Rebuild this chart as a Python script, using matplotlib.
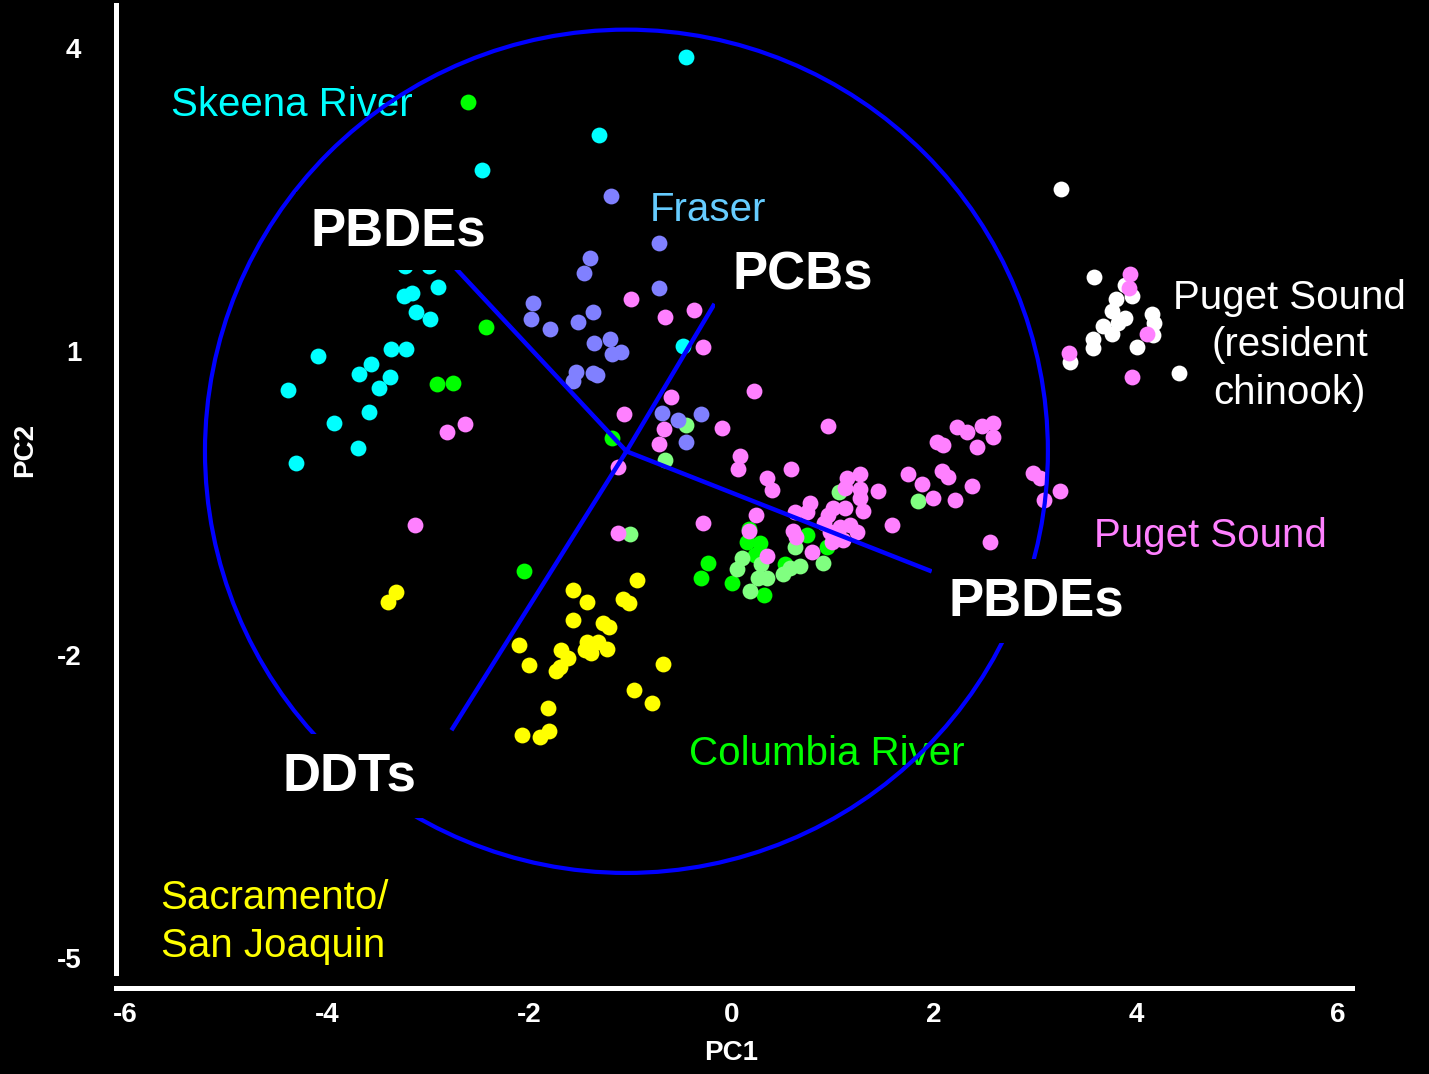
import matplotlib.pyplot as plt
from matplotlib.patches import Circle

plt.rcParams['font.family'] = ['Liberation Sans', 'DejaVu Sans']

# PC scores for each stock
skeena_x = [-0.45, -1.31, -2.47, -3.23, -2.99, -3.24, -3.16, -2.90, -3.12, -2.98, -3.37, -3.22,
            -4.09, -3.57, -3.69, -3.38, -3.49, -4.39, -3.59, -3.93, -3.70, -4.31, -0.48]
skeena_y = [3.91, 3.14, 2.79, 1.84, 1.84, 1.55, 1.58, 1.63, 1.39, 1.32, 1.02, 1.02,
            0.95, 0.87, 0.77, 0.74, 0.64, 0.62, 0.40, 0.29, 0.04, -0.11, 1.05]

columbia_x = [-2.61, -2.43, -2.91, -2.76, -1.18, -2.05, -0.23, -0.30, 0.00, 0.32, 0.17, 0.15,
              0.28, 0.23, 0.53, 0.75, 0.94]
columbia_y = [3.46, 1.24, 0.68, 0.69, 0.14, -1.17, -1.09, -1.24, -1.29, -1.41, -0.76, -0.89,
              -0.90, -1.02, -1.10, -0.82, -0.94]

# second Columbia group (lighter green)
columbia2_x = [-0.45, -0.66, -1.00, 1.84, 0.10, 0.05, 0.18, 0.26, 0.35, 0.51, 0.58, 0.68,
               0.63, 0.90, 1.06, 0.29]
columbia2_y = [0.27, -0.08, -0.81, -0.48, -1.05, -1.15, -1.37, -1.24, -1.24, -1.20, -1.14, -1.12,
               -0.94, -1.09, -0.39, -1.10]

fraser_x = [-1.19, -0.72, -1.40, -1.46, -0.72, -1.96, -1.98, -1.80, -1.52, -1.37, -1.36, -1.20,
            -1.18, -1.09, -1.54, -1.57, -1.37, -1.33, -0.69, -0.53, -0.30, -0.45]
fraser_y = [2.53, 2.07, 1.92, 1.77, 1.62, 1.48, 1.32, 1.22, 1.29, 1.39, 1.08, 1.12,
            0.97, 0.99, 0.79, 0.71, 0.78, 0.76, 0.39, 0.32, 0.38, 0.10]

resident_x = [3.26, 3.59, 3.89, 3.96, 3.80, 3.76, 3.89, 3.82, 3.68, 3.76, 4.16, 4.18,
              4.17, 3.58, 3.58, 4.01, 3.35, 4.43]
resident_y = [2.60, 1.73, 1.65, 1.55, 1.52, 1.40, 1.33, 1.28, 1.25, 1.17, 1.37, 1.28,
              1.16, 1.12, 1.03, 1.04, 0.89, 0.78]

sacramento_x = [-0.94, -1.57, -1.43, -1.07, -1.01, -1.57, -1.27, -1.21, -2.10, -1.43, -1.45, -1.32,
                -1.39, -1.23, -1.69, -1.62, -1.74, -1.70, -2.00, -0.68, -0.97, -0.79, -1.82, -1.81,
                -1.90, -2.07, -3.32, -3.40]
sacramento_y = [-1.26, -1.36, -1.48, -1.45, -1.49, -1.66, -1.69, -1.73, -1.91, -1.88, -1.96, -1.88,
                -1.98, -1.95, -1.96, -2.03, -2.16, -2.12, -2.10, -2.09, -2.35, -2.48, -2.53, -2.76,
                -2.82, -2.80, -1.38, -1.48]

puget_x = [-2.82, -2.64, -3.13, -1.12, -0.99, -0.66, -0.37, -0.28, -0.60, -1.06, -0.67, -0.72,
           -0.09, 0.22, 0.95, -1.12, 0.08, 0.06, 0.35, 0.40, 0.59, -0.28, 0.24, 0.17,
           0.35, 0.61, 0.64, 0.78, 0.80, 1.45, 2.23, 2.33, 2.48, 2.59, 2.59, 2.43,
           2.03, 2.09, 1.75, 1.88, 2.08, 2.14, 2.38, 1.99, 2.21, 1.59, 2.56, 2.98,
           3.05, 3.09, 3.25, 1.27, 1.14, 1.12, 1.27, 0.75, 1.00, 0.95, 1.12, 1.30,
           1.27, 1.17, 1.24, 1.07, 0.97, 0.99, 1.10, 0.91, 0.63, 3.94, 3.93, 4.11,
           3.34, 3.96]
puget_y = [0.20, 0.28, -0.72, -0.80, 1.52, 1.34, 1.41, 1.04, 0.55, 0.38, 0.23, 0.08,
           0.24, 0.61, 0.26, -0.15, -0.04, -0.17, -0.25, -0.37, -0.17, -0.70, -0.62, -0.78,
           -1.03, -0.78, -0.84, -0.50, -0.99, -0.38, 0.25, 0.20, 0.26, 0.29, 0.15, 0.05,
           0.10, 0.07, -0.21, -0.31, -0.18, -0.24, -0.33, -0.45, -0.47, -0.72, -0.89, -0.20,
           -0.25, -0.47, -0.38, -0.21, -0.25, -0.35, -0.36, -0.59, -0.55, -0.62, -0.55, -0.58,
           -0.45, -0.72, -0.79, -0.74, -0.79, -0.89, -0.87, -0.70, -0.59, 1.76, 1.62, 1.17,
           0.98, 0.74]

# loading vectors and correlation circle
origin_x, origin_y = -1.04, 0.01
circle_r = 4.17
load_names = ['PBDEs', 'PCBs', 'DDTs', 'PBDEs']
load_x = [-2.73, -0.18, -2.76, 1.96]
load_y = [1.82, 1.45, -2.73, -1.17]
load_lab_x = [-3.30, 0.70, -3.78, 3.02]
load_lab_y = [2.05, 1.61, -3.34, -1.61]

fig = plt.figure(figsize=(14.29, 10.74), dpi=100, facecolor='black')
ax = fig.add_axes([0.0812, 0.094, 0.865, 0.901])
ax.set_facecolor('black')

dot = dict(s=130, linewidths=0, zorder=2)
ax.scatter(columbia_x, columbia_y, color='#00FF00', **dot)
ax.scatter(columbia2_x, columbia2_y, color='#80FF80', **dot)
ax.scatter(resident_x, resident_y, color='white', **dot)
ax.scatter(fraser_x, fraser_y, color='#8080FF', **dot)
ax.scatter(skeena_x, skeena_y, color='#00FFFF', **dot)
ax.scatter(sacramento_x, sacramento_y, color='#FFFF00', **dot)
ax.scatter(puget_x, puget_y, color='#FF80FF', **dot)

ax.add_patch(Circle((origin_x, origin_y), circle_r, fill=False, color='#0000FF', lw=3, zorder=3))
for lx, ly in zip(load_x, load_y):
    ax.plot([origin_x, lx], [origin_y, ly], color='#0000FF', lw=3.2, zorder=3)

for i, (name, tx, ty) in enumerate(zip(load_names, load_lab_x, load_lab_y)):
    pad = 0.26 if i == 0 else 0.32
    ax.text(tx, ty, name, color='white', fontsize=38, fontweight='bold', ha='center', va='baseline',
            zorder=5, bbox=dict(boxstyle='square,pad=%s' % pad, fc='black', ec='none'))

# stock labels (multi-line ones are placed by the baseline of their last line)
ax.text(-5.55, 3.33, 'Skeena River', color='#00FFFF', fontsize=29, va='baseline', zorder=2.5)
ax.text(-0.81, 2.29, 'Fraser', color='#66CCFF', fontsize=29, va='baseline', zorder=2.5)
ax.text(5.52, 0.48, 'Puget Sound\n(resident\nchinook)', color='white', fontsize=29,
        ha='center', va='baseline', multialignment='center', linespacing=1.32, zorder=2.5)
ax.text(3.59, -0.94, 'Puget Sound', color='#FF80FF', fontsize=29, va='baseline', zorder=2.5)
ax.text(-0.42, -3.09, 'Columbia River', color='#00FF00', fontsize=29, va='baseline', zorder=2.5)
ax.text(-5.65, -4.99, 'Sacramento/\nSan Joaquin', color='#FFFF00', fontsize=29, va='baseline',
        linespacing=1.34, zorder=2.5)

ax.set_xlim(-6.09, 6.14)
ax.set_ylim(-5.15, 4.42)

for side in ['top', 'right']:
    ax.spines[side].set_visible(False)
for side in ['left', 'bottom']:
    ax.spines[side].set_color('white')
    ax.spines[side].set_linewidth(3.6)
ax.spines['bottom'].set_position(('outward', 10.8))

ax.set_xticks([-6, -4, -2, 0, 2, 4, 6], labels=['-6', '-4', '-2', '0', '2', '4', '6'], fontweight='bold')
ax.set_yticks([4, 1, -2, -5], labels=['4', '1', '-2', '-5'], fontweight='bold')
ax.tick_params(axis='both', length=0, colors='white', labelsize=20)
ax.tick_params(axis='x', pad=10)
ax.tick_params(axis='y', pad=25)

fig.text(0.5115, 0.0196, 'PC1', color='white', fontsize=20, fontweight='bold', ha='center', va='center')
fig.text(0.0175, 0.581, 'PC2', color='white', fontsize=20, fontweight='bold', ha='center', va='center',
         rotation=90)

fig.savefig('out.png', dpi=100, facecolor='black')
